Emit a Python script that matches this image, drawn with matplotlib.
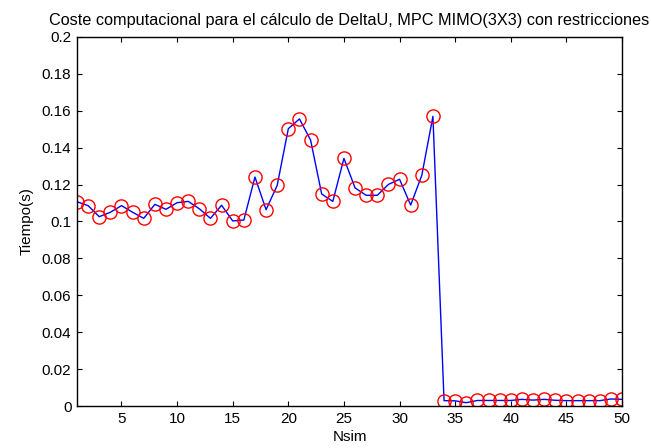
import numpy as np
import matplotlib
matplotlib.use('Agg')
import matplotlib.pyplot as plt

plt.rcParams['font.family'] = ['Liberation Sans', 'DejaVu Sans']

nsim = np.arange(1, 51)
tiempo = [0.1107, 0.1086, 0.1026, 0.1050, 0.1086, 0.1050, 0.1017, 0.1093, 0.1066, 0.1102,
          0.1109, 0.1069, 0.1017, 0.1088, 0.1003, 0.1008, 0.1241, 0.1064, 0.1196, 0.1503,
          0.1556, 0.1442, 0.1149, 0.1109, 0.1342, 0.1182, 0.1142, 0.1142, 0.1201, 0.1229,
          0.1089, 0.1250, 0.1570, 0.0029, 0.0028, 0.0018, 0.0030, 0.0030, 0.0030, 0.0030,
          0.0036, 0.0032, 0.0036, 0.0031, 0.0029, 0.0029, 0.0029, 0.0029, 0.0038, 0.0036]
yticks = np.arange(0, 0.2001, 0.02)
ytick_labels = ['0', '0.02', '0.04', '0.06', '0.08', '0.1', '0.12', '0.14', '0.16', '0.18', '0.2']
xticks = np.arange(5, 51, 5)

fig = plt.figure(figsize=(6.51, 4.48), dpi=100)
ax = fig.add_axes([77 / 651, 42 / 448, 545 / 651, 369 / 448])

ax.plot(nsim, tiempo, 'b-', lw=1)
ax.plot(nsim, tiempo, 'o', mfc='none', mec='red', ms=9.5, mew=1)

ax.set_xlim(1, 50)
ax.set_ylim(0, 0.2)
ax.set_xticks(xticks)
ax.set_yticks(yticks)
ax.set_yticklabels(ytick_labels)
ax.tick_params(direction='in', top=True, right=True, labelsize=11, length=3.6, pad=4)
for s in ax.spines.values():
    s.set_linewidth(1)

ax.set_title('Coste computacional para el cálculo de DeltaU, MPC MIMO(3X3) con restricciones',
             fontsize=11.7, pad=9)
ax.set_xlabel('Nsim', fontsize=11, labelpad=3)
ax.set_ylabel('Tiempo(s)', fontsize=11, labelpad=6)

fig.savefig('out.png', dpi=100)
